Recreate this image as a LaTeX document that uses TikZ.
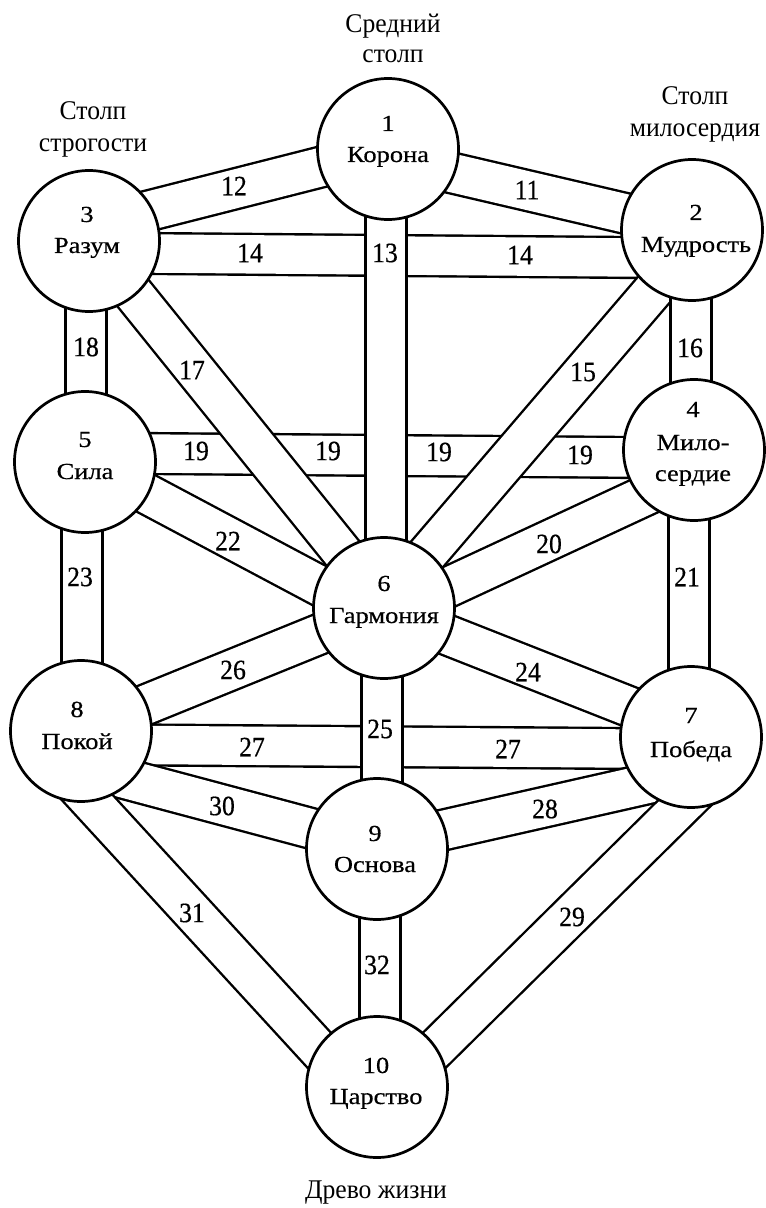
\documentclass[tikz,border=0pt]{standalone}
\usepackage{fontspec}
\setmainfont{Liberation Serif}
\newfontfamily\sephfont[FakeStretch=1.15,FakeBold=0.5]{Liberation Serif}
\newfontfamily\pathfont[FakeStretch=0.92,FakeBold=0.5]{Liberation Serif}
\newfontfamily\titlefont[FakeStretch=0.95]{Liberation Serif}
\usetikzlibrary{calc}
\begin{document}
\begin{tikzpicture}[x=0.5pt,y=-0.5pt,
  band/.style={draw=black, line width=1.2pt, double=white, double distance=19.2pt},
  seph/.style={circle, draw=black, line width=1.35pt, fill=white, minimum size=70.5pt, inner sep=0pt},
  stxt/.style={anchor=base, inner sep=0pt, font=\sephfont\fontsize{11.5}{13}\selectfont},
  ptxt/.style={inner sep=0pt, font=\pathfont\fontsize{14}{16}\selectfont},
  ttl/.style={anchor=base, inner sep=0pt, font=\titlefont\fontsize{13.5}{15}\selectfont}]
\fill[white] (0,0) rectangle (765,1208);
\useasboundingbox (0,0) rectangle (765,1208);

% centres of the sephiroth
\coordinate (c1) at (388,149);
\coordinate (c2) at (692,230);
\coordinate (c3) at (89,241);
\coordinate (c4) at (694,450);
\coordinate (c5) at (85,462);
\coordinate (c6) at (384,608);
\coordinate (c7) at (691,737);
\coordinate (c8) at (81,731);
\coordinate (c9) at (377,849);
\coordinate (c10) at (377,1087);

% paths (bands) -- horizontals first, they are crossed by others
\draw[band] ($(c3)+(0,12)$) -- ($(c2)+(0,28)$);     % 14
\draw[band] ($(c5)+(0,-9)$) -- ($(c4)+(0,8)$);      % 19
\draw[band] ($(c8)+(0,13.5)$) -- ($(c7)+(0,12)$);   % 27
\draw[band] ($(c1)+(0,9)$) -- ($(c2)+(0,-1)$);      % 11
\draw[band] ($(c3)+(0,-15)$) -- ($(c1)+(0,1)$);     % 12
\draw[band] ($(c1)+(-2,0)$) -- ($(c6)+(2,0)$);      % 13
\draw[band] ($(c2)+(13,0)$) -- ($(c6)+(-3,0)$);     % 15
\draw[band] ($(c2)+(-1,0)$) -- ($(c4)+(-3,0)$);     % 16
\draw[band] ($(c3)+(2,0)$) -- ($(c6)+(3,0)$);       % 17
\draw[band] ($(c3)+(-3,0)$) -- ($(c5)+(1,0)$);      % 18
\draw[band] ($(c4)+(0,23)$) -- ($(c6)+(0,9)$);      % 20
\draw[band] ($(c4)+(-5,0)$) -- ($(c7)+(-2,0)$);     % 21
\draw[band] ($(c5)+(0,-1)$) -- ($(c6)+(0,12)$);     % 22
\draw[band] ($(c5)+(-3,0)$) -- ($(c8)+(1,0)$);      % 23
\draw[band] ($(c6)+(0,2)$) -- ($(c7)+(0,-6)$);      % 24
\draw[band] ($(c6)+(-2,0)$) -- ($(c9)+(5,0)$);      % 25
\draw[band] (c8) -- (c6);                           % 26
\draw[band] ($(c9)+(0,-4)$) -- ($(c7)+(0,37)$);     % 28
\draw[band] ($(c7)+(30,30)$) -- ($(c10)+(10,10)$);  % 29
\draw[band] ($(c8)+(0,36)$) -- ($(c9)+(0,-3)$);     % 30
\draw[band] ($(c8)+(-30,27)$) -- ($(c10)+(-13,12)$);% 31
\draw[band] ($(c9)+(3,0)$) -- ($(c10)+(3,0)$);      % 32

% path numbers
\node[ptxt] (p11) at (527,190) {11};
\node[ptxt] (p12) at (234,186) {12};
\node[ptxt] (p13) at (385,253) {13};
\node[ptxt] (p14a) at (250,253) {14};
\node[ptxt] (p14b) at (520,255) {14};
\node[ptxt] (p15) at (583,372) {15};
\node[ptxt] (p16) at (690,348) {16};
\node[ptxt] (p17) at (192,370) {17};
\node[ptxt] (p18) at (86,347) {18};
\node[ptxt] (p19a) at (196,451) {19};
\node[ptxt] (p19b) at (328,451) {19};
\node[ptxt] (p19c) at (439,452) {19};
\node[ptxt] (p19d) at (580,455) {19};
\node[ptxt] (p20) at (549,544) {20};
\node[ptxt] (p21) at (687,577) {21};
\node[ptxt] (p22) at (228,541) {22};
\node[ptxt] (p23) at (80,577) {23};
\node[ptxt] (p24) at (528,672) {24};
\node[ptxt] (p25) at (380,729) {25};
\node[ptxt] (p26) at (233,670) {26};
\node[ptxt] (p27a) at (252,747) {27};
\node[ptxt] (p27b) at (508,749) {27};
\node[ptxt] (p28) at (545,809) {28};
\node[ptxt] (p29) at (572,917) {29};
\node[ptxt] (p30) at (222,806) {30};
\node[ptxt] (p31) at (192,913) {31};
\node[ptxt] (p32) at (377,965) {32};

% sephiroth
\foreach \i in {1,...,10} \node[seph] (s\i) at (c\i) {};

\node[stxt] (s1a) at (388,131) {1};
\node[stxt] (s1b) at (388,162) {Корона};
\node[stxt] (s2a) at (696,220) {2};
\node[stxt] (s2b) at (696,252) {Мудрость};
\node[stxt] (s3a) at (87,222) {3};
\node[stxt] (s3b) at (87,253) {Разум};
\node[stxt] (s4a) at (693,417) {4};
\node[stxt] (s4b) at (693,450) {Мило-};
\node[stxt] (s4c) at (693,481) {сердие};
\node[stxt] (s5a) at (85,447) {5};
\node[stxt] (s5b) at (85,479) {Сила};
\node[stxt] (s6a) at (384,591) {6};
\node[stxt] (s6b) at (384,623) {Гармония};
\node[stxt] (s7a) at (691,723) {7};
\node[stxt] (s7b) at (691,757) {Победа};
\node[stxt] (s8a) at (77,717) {8};
\node[stxt] (s8b) at (77,749) {Покой};
\node[stxt] (s9a) at (375,841) {9};
\node[stxt] (s9b) at (375,872) {Основа};
\node[stxt] (s10a) at (376,1073) {10};
\node[stxt] (s10b) at (376,1104) {Царство};

% titles
\node[ttl] (t1a) at (393,33) {Средний};
\node[ttl] (t1b) at (393,63) {столп};
\node[ttl] (t2a) at (93,120) {Столп};
\node[ttl] (t2b) at (93,152) {строгости};
\node[ttl] (t3a) at (695,105) {Столп};
\node[ttl] (t3b) at (695,137) {милосердия};
\node[ttl] (t4) at (376,1198) {Древо жизни};
\end{tikzpicture}
\end{document}
